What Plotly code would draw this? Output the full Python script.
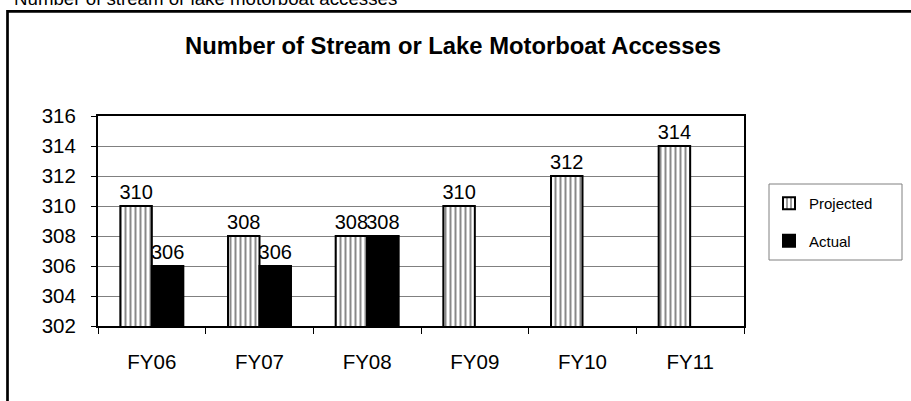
import plotly.graph_objects as go

categories = ["FY06", "FY07", "FY08", "FY09", "FY10", "FY11"]
projected = [310, 308, 308, 310, 312, 314]
actual = [306, 306, 308, None, None, None]
y_ticks = [302, 304, 306, 308, 310, 312, 314, 316]

W, H = 911, 401
L, R, T, B = 98, 744, 116, 326

def px(x):
    return (x - L) / (R - L)

def py(y):
    return (B - y) / (B - T)

FONT = "Liberation Sans, Arial, sans-serif"

fig = go.Figure()
fig.add_trace(go.Bar(
    x=categories, y=projected, name="Projected",
    marker=dict(color="white", line=dict(color="black", width=2),
                pattern=dict(shape="|", size=5, solidity=0.4, fgcolor="#111", bgcolor="white")),
    text=projected, textposition="outside", constraintext="none",
    textfont=dict(size=20, color="black", family=FONT),
    legendgroup="p",
))
fig.add_trace(go.Bar(
    x=categories, y=actual, name="Actual",
    marker=dict(color="black", line=dict(color="black", width=2)),
    text=actual, textposition="outside", constraintext="none",
    textfont=dict(size=20, color="black", family=FONT),
    legendgroup="a",
))

fig.update_layout(
    width=W, height=H,
    margin=dict(l=L, r=W - R, t=T, b=H - B),
    paper_bgcolor="white", plot_bgcolor="white",
    barmode="group", bargap=0.415, bargroupgap=0,
    font=dict(family=FONT, color="black", size=20.5),
    showlegend=True,
    legend=dict(
        x=px(769), xanchor="left", y=py(187), yanchor="top",
        borderwidth=0, bgcolor="rgba(0,0,0,0)",
        font=dict(size=15, family=FONT), traceorder="grouped", tracegroupgap=15,
        itemwidth=30,
    ),
    xaxis=dict(
        showline=True, linecolor="black", linewidth=2, mirror=True,
        ticks="outside", tickson="boundaries", ticklen=6, tickcolor="black",
        tickfont=dict(size=20.5), ticklabelstandoff=16, showgrid=False,
    ),
    yaxis=dict(
        range=[302, 316], tickvals=y_ticks,
        showline=True, linecolor="black", linewidth=2, mirror=True,
        ticks="outside", ticklen=5, tickcolor="black",
        showgrid=True, gridcolor="#808080", gridwidth=1,
        tickfont=dict(size=20.5), ticklabelstandoff=11, zeroline=False,
    ),
    shapes=[
        dict(type="rect", xref="paper", yref="paper",
             x0=px(7.5), x1=px(940), y0=py(11.3), y1=py(440),
             line=dict(color="black", width=2.7), layer="below"),
        dict(type="rect", xref="paper", yref="paper",
             x0=px(769), x1=px(902), y0=py(184), y1=py(260),
             line=dict(color="#808080", width=1), layer="below"),
    ],
    annotations=[
        dict(text="<b>Number of Stream or Lake Motorboat Accesses</b>", xref="paper", yref="paper",
             x=px(452.5), y=py(45), xanchor="center", yanchor="middle", showarrow=False,
             font=dict(size=23.8, family=FONT, color="black")),
        dict(text="Number of stream or lake motorboat accesses", xref="paper", yref="paper",
             x=px(12), y=py(-1.5), xanchor="left", yanchor="middle", showarrow=False,
             font=dict(size=18.7, family=FONT, color="black")),
    ],
)

fig.write_html("out.html", config={"displayModeBar": False},
               post_script="document.body.style.margin='0';")
